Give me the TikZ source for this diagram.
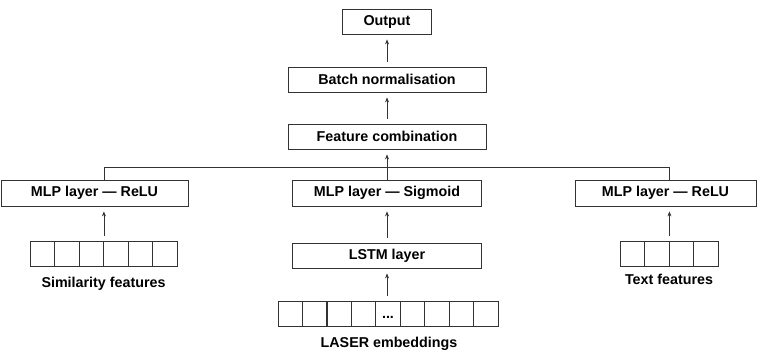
\documentclass[tikz,border=0pt]{standalone}
\usepackage{fontspec}
\setmainfont{Liberation Sans}
\usetikzlibrary{arrows.meta}

\begin{document}
\begin{tikzpicture}[x=1pt,y=-1pt,
	box/.style={draw=black!80, line width=0.8pt, minimum height=25pt, inner sep=0pt, font=\fontsize{14.3}{16}\selectfont\bfseries},
	cell/.style={draw=black!80, line width=0.8pt, minimum width=24.5pt, minimum height=25pt, inner sep=0pt},
	featname/.style={anchor=base, inner sep=0pt, font=\fontsize{14.3}{16}\selectfont\bfseries},
	arr/.style={line width=0.8pt, draw=black!80, -{Stealth[length=5pt,width=4pt]}, shorten >=5pt, shorten <=5pt}]
	\useasboundingbox (0,0) rectangle (757,349);

	% top of the network
	\node[box, minimum width=89pt] (out) at (387,21.5) {Output};
	\node[box, minimum width=198pt] (bn) at (387,79.5) {Batch normalisation};
	\node[box, minimum width=198pt] (fc) at (387,136.5) {Feature combination};

	% the three branches
	\node[box, minimum width=187pt, minimum height=26pt] (mlpl) at (94.5,193) {MLP layer --- ReLU};
	\node[box, minimum width=189pt, minimum height=26pt] (mlpm) at (387,193) {MLP layer --- Sigmoid};
	\node[box, minimum width=181pt, minimum height=26pt] (mlpr) at (665.5,193) {MLP layer --- ReLU};
	\node[box, minimum width=189pt] (lstm) at (387,255.5) {LSTM layer};

	% input vectors
	\foreach \i in {1,...,6}
		\node[cell] (sim\i) at ({30+24.5*(\i-0.5)},253.5) {};
	\foreach \i in {1,...,9}
		\node[cell] (las\i) at ({388+24.45*(\i-5)},313.5) {};
	\foreach \i in {1,...,4}
		\node[cell] (tf\i) at ({620+24.5*(\i-0.5)},253.5) {};
	\node[inner sep=0pt, font=\fontsize{14.3}{16}\selectfont\bfseries] (lasdots) at ([yshift=-4pt]las5.center) {...};

	\node[featname] (simlab) at (103.5,287) {Similarity features};
	\node[featname] (laslab) at (389,347) {LASER embeddings};
	\node[featname] (tflab) at (669,284) {Text features};

	% connectors
	\coordinate (bus) at (387,167);
	\draw[line width=0.8pt, draw=black!80] (sim3.north east |- mlpl.north) -- (sim3.north east |- bus) -- (tf2.north east |- bus) -- (tf2.north east |- mlpr.north);
	\draw[arr] (bn) -- (out);
	\draw[arr] (fc) -- (bn);
	\draw[arr, shorten <=0pt] (mlpm) -- (fc);
	\draw[arr] (lstm) -- (mlpm);
	\draw[arr] (las5.north -| lstm) -- (lstm);
	\draw[arr] (sim3.north east) -- (sim3.north east |- mlpl.south);
	\draw[arr] (tf2.north east) -- (tf2.north east |- mlpr.south);
\end{tikzpicture}
\end{document}
